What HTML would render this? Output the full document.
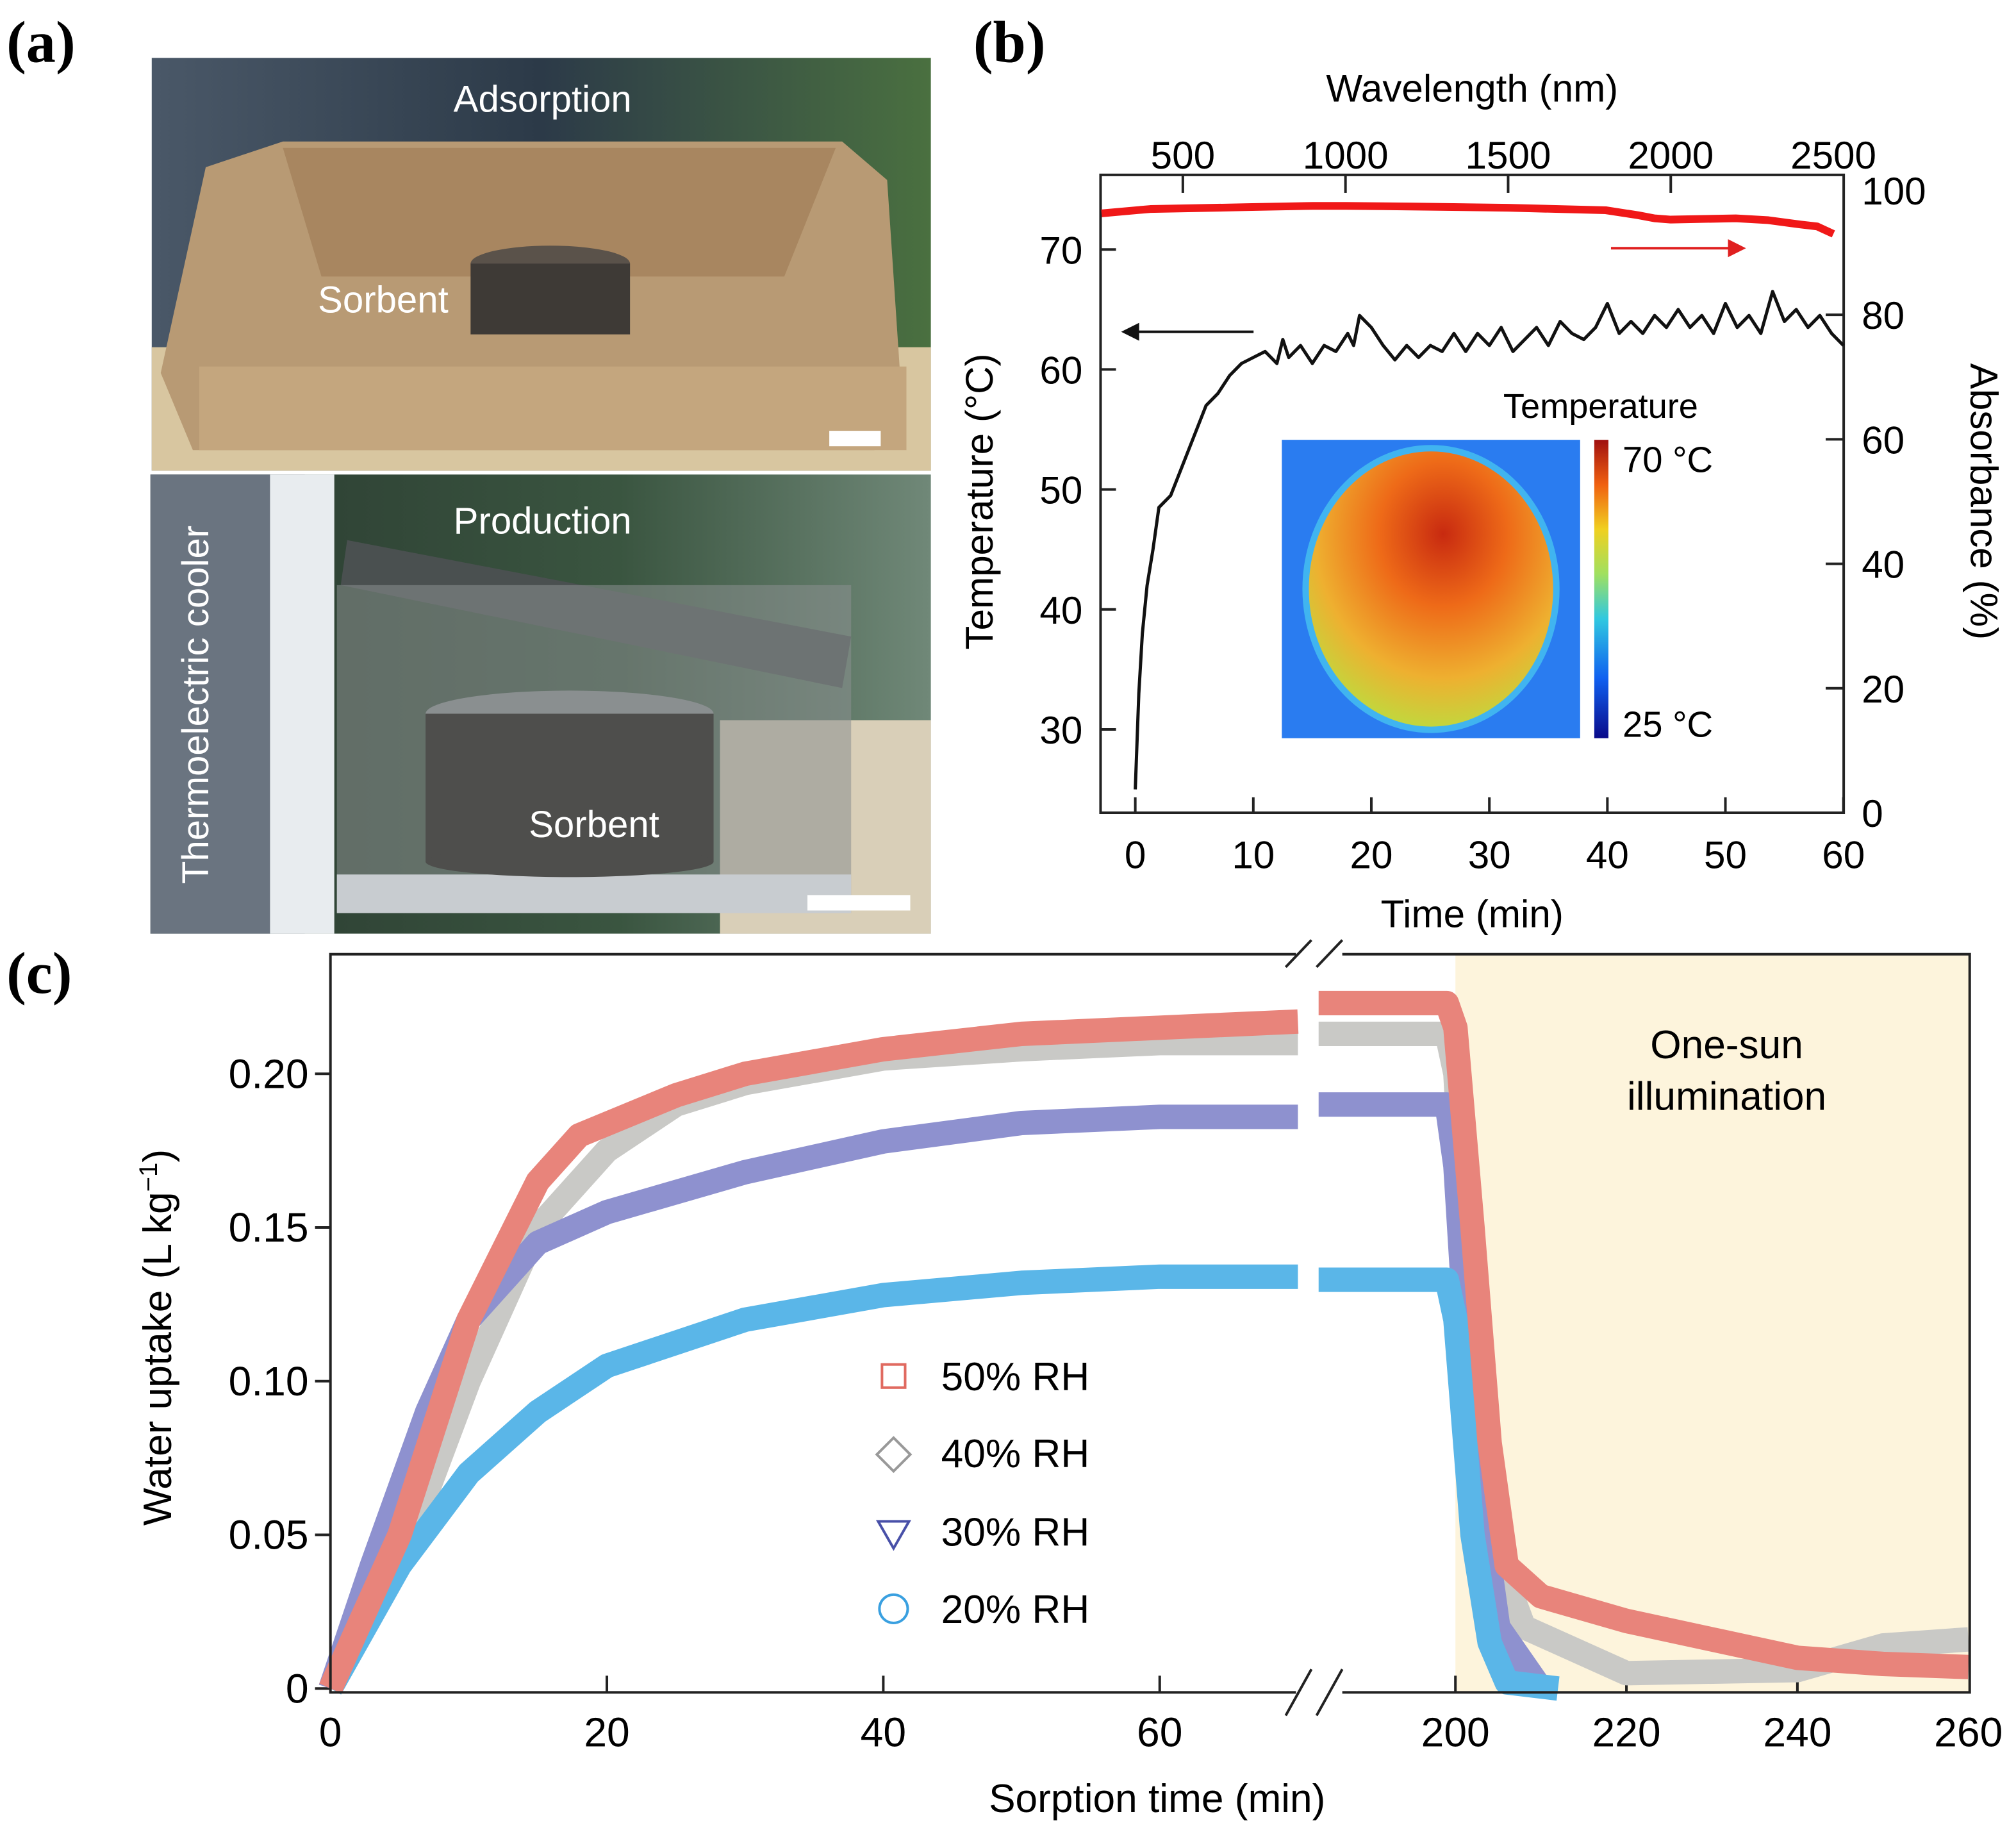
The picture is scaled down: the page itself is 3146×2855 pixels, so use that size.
<!DOCTYPE html>
<html><head><meta charset="utf-8"><style>
html,body{margin:0;padding:0;background:#fff}
svg{display:block}
</style></head><body>
<svg id="fig" xmlns="http://www.w3.org/2000/svg" width="3146" height="2855" viewBox="0 0 1568 1423" font-family="Liberation Sans, sans-serif">
<defs>
<linearGradient id="cbar" x1="0" y1="1" x2="0" y2="0">
<stop offset="0" stop-color="#0a0a8a"/><stop offset="0.2" stop-color="#1060f0"/><stop offset="0.4" stop-color="#30c8e0"/><stop offset="0.55" stop-color="#a0e060"/><stop offset="0.7" stop-color="#f0d020"/><stop offset="0.85" stop-color="#f06010"/><stop offset="1" stop-color="#a01010"/>
</linearGradient>
<radialGradient id="hot" cx="0.55" cy="0.3" r="0.75">
<stop offset="0" stop-color="#c82a10"/><stop offset="0.35" stop-color="#ee6a18"/><stop offset="0.7" stop-color="#eeb030"/><stop offset="1" stop-color="#b8e040"/>
</radialGradient>
<linearGradient id="sky1" x1="0" y1="0" x2="1" y2="0"><stop offset="0" stop-color="#4a5868"/><stop offset="0.5" stop-color="#2c3a48"/><stop offset="1" stop-color="#4a7040"/></linearGradient>
<linearGradient id="sky2" x1="0" y1="0" x2="1" y2="0"><stop offset="0" stop-color="#2a3a30"/><stop offset="0.6" stop-color="#3a5540"/><stop offset="1" stop-color="#708878"/></linearGradient>
</defs>

<text x="5" y="48" style="font-family:'Liberation Serif',serif;font-weight:bold" font-size="46">(a)</text>
<text x="757" y="48" style="font-family:'Liberation Serif',serif;font-weight:bold" font-size="46">(b)</text>
<text x="5" y="772" style="font-family:'Liberation Serif',serif;font-weight:bold" font-size="46">(c)</text>

<g>
<rect x="118" y="45" width="606" height="321" fill="url(#sky1)"/>
<rect x="118" y="270" width="606" height="96" fill="#d8c6a0"/>
<polygon points="160,130 220,110 655,110 690,140 700,290 680,350 150,350 125,290" fill="#b89a74"/>
<polygon points="220,115 650,115 610,215 250,215" fill="#a88660"/>
<rect x="155" y="285" width="550" height="65" fill="#c4a67e"/>
<ellipse cx="428" cy="205" rx="62" ry="14" fill="#5a524a"/>
<rect x="366" y="205" width="124" height="55" fill="#3e3a36"/>
<rect x="645" y="335" width="40" height="12" fill="#fff"/>
<text x="422" y="87" font-size="29" fill="#fff" text-anchor="middle">Adsorption</text>
<text x="298" y="243" font-size="29" fill="#fff" text-anchor="middle">Sorbent</text>
</g>
<g>
<rect x="117" y="369" width="607" height="357" fill="url(#sky2)"/>
<rect x="117" y="369" width="120" height="357" fill="#6a7480"/>
<rect x="210" y="369" width="50" height="357" fill="#e8ecef"/>
<rect x="560" y="560" width="164" height="166" fill="#d9cfb8"/>
<polygon points="270,420 662,495 655,535 265,455" fill="#4a5050"/>
<rect x="262" y="455" width="400" height="255" fill="#8a9090" opacity="0.55"/>
<rect x="262" y="680" width="400" height="30" fill="#c8ccd0"/>
<ellipse cx="443" cy="555" rx="112" ry="18" fill="#8a8f90"/>
<rect x="331" y="555" width="224" height="115" fill="#4e4e4c"/>
<ellipse cx="443" cy="670" rx="112" ry="12" fill="#4e4e4c"/>
<rect x="628" y="696" width="80" height="12" fill="#fff"/>
<text x="422" y="415" font-size="29" fill="#fff" text-anchor="middle">Production</text>
<text x="462" y="651" font-size="29" fill="#fff" text-anchor="middle">Sorbent</text>
<text transform="translate(162,548) rotate(-90)" font-size="29" fill="#fff" text-anchor="middle">Thermoelectric cooler</text>
</g>

<g id="pb">
<rect x="856" y="136" width="578" height="496" fill="none" stroke="#222" stroke-width="2"/>
<text x="1145" y="79" font-size="30" text-anchor="middle">Wavelength (nm)</text>
<text x="1145" y="721" font-size="30" text-anchor="middle">Time (min)</text>
<text transform="translate(772,390) rotate(-90)" font-size="30" text-anchor="middle">Temperature (°C)</text>
<text transform="translate(1533,390) rotate(90)" font-size="30" text-anchor="middle">Absorbance (%)</text>
<g>
<rect x="997" y="342" width="232" height="232" fill="#2a7cf0"/>
<ellipse cx="1113" cy="458" rx="100" ry="112" fill="#40b4f0"/>
<ellipse cx="1113" cy="458" rx="95" ry="107" fill="url(#hot)"/>
<rect x="1240" y="342" width="11" height="232" fill="url(#cbar)"/>
<text x="1245" y="325" font-size="27" text-anchor="middle">Temperature</text>
<text x="1262" y="367" font-size="28">70 °C</text>
<text x="1262" y="573" font-size="28">25 °C</text>
</g>
<line x1="975" y1="258" x2="880" y2="258" stroke="#111" stroke-width="2"/>
<polygon points="872,258 886,251 886,265" fill="#111"/>
<line x1="1253" y1="193" x2="1348" y2="193" stroke="#e02020" stroke-width="2"/>
<polygon points="1358,193 1344,186 1344,200" fill="#e02020"/>
</g>

<g id="pc">
<rect x="1132" y="742" width="400" height="574" fill="#fdf4dc"/>
</g>
<g id="pcover">
<rect x="257" y="742" width="1275" height="574" fill="none" stroke="#222" stroke-width="2"/>
<rect x="1008" y="735" width="36" height="14" fill="#fff"/>
<rect x="1008" y="1309" width="36" height="14" fill="#fff"/>
<g stroke="#222" stroke-width="2">
<line x1="1000" y1="752" x2="1020" y2="731"/><line x1="1024" y1="752" x2="1044" y2="731"/>
<line x1="1000" y1="1334" x2="1020" y2="1298"/><line x1="1024" y1="1334" x2="1044" y2="1298"/>
</g>
<text x="1343" y="823" font-size="31" text-anchor="middle">One-sun</text>
<text x="1343" y="863" font-size="31" text-anchor="middle">illumination</text>
<text transform="translate(133,1040) rotate(-90)" font-size="31" text-anchor="middle">Water uptake (L kg<tspan dy="-11" font-size="20">−1</tspan><tspan dy="11">)</tspan></text>
<text x="900" y="1409" font-size="31" text-anchor="middle">Sorption time (min)</text>
<g>
<g><rect x="686" y="1061" width="18" height="18" fill="none" stroke="#e06a60" stroke-width="2"/><text x="732" y="1081" font-size="31">50% RH</text></g>
<g><polygon points="695,1118 708,1131 695,1144 682,1131" fill="none" stroke="#999" stroke-width="2"/><text x="732" y="1141" font-size="31">40% RH</text></g>
<g><polygon points="683,1183 707,1183 695,1204" fill="none" stroke="#4850a8" stroke-width="2"/><text x="732" y="1202" font-size="31">30% RH</text></g>
<g><circle cx="695" cy="1251" r="11" fill="none" stroke="#3aa0e0" stroke-width="2"/><text x="732" y="1262" font-size="31">20% RH</text></g>
</g>
</g>
</svg>
<script>
const NS="http://www.w3.org/2000/svg";
const bTimeTicks=[0,10,20,30,40,50,60];
const bTempTicks=[30,40,50,60,70];
const bAbsTicks=[0,20,40,60,80,100];
const bWaveTicks=[500,1000,1500,2000,2500];
const tempTime=[0,0.3,0.6,1,1.5,2,3,4,5,6,7,8,9,10,11,12,12.5,13,14,15,16,17,18,18.5,19,20,21,22,23,24,25,26,27,28,29,30,31,32,33,34,35,36,37,38,39,40,41,42,43,44,45,46,47,48,49,50,51,52,53,54,55,56,57,58,59,60];
const tempVals=[25,33,38,42,45,48.5,49.5,52,54.5,57,58,59.5,60.5,61,61.5,60.5,62.5,61,62,60.5,62,61.5,63,62,64.5,63.5,62,60.8,62,61,62,61.5,63,61.5,63,62,63.5,61.5,62.5,63.5,62,64,63,62.5,63.5,65.5,63,64,63,64.5,63.5,65,63.5,64.5,63,65.5,63.5,64.5,63,66.5,64,65,63.5,64.5,63,62];
const absWave=[250,400,700,900,1000,1200,1500,1800,1900,1950,2000,2200,2300,2400,2450,2500];
const absVals=[96.3,97,97.3,97.5,97.5,97.4,97.2,96.8,96,95.5,95.3,95.5,95.2,94.5,94.2,93];
const cTickLabels=[0,20,40,60,200,220,240,260];
const cYTicks=[0,0.05,0.10,0.15,0.20];
const rh50T=[0,5,10,15,18,25,30,40,50,60,70,184,199,200,202,204,206,210,220,230,240,250,260];
const rh50V=[0,0.05,0.12,0.165,0.18,0.193,0.2,0.208,0.213,0.215,0.217,0.223,0.223,0.215,0.15,0.08,0.04,0.03,0.022,0.016,0.01,0.008,0.007];
const rh40T=[0,5,10,15,20,25,30,40,50,60,70,184,199,200,202,204,208,220,240,250,260];
const rh40V=[0,0.04,0.10,0.15,0.175,0.19,0.197,0.205,0.208,0.21,0.21,0.213,0.213,0.2,0.1,0.05,0.02,0.005,0.006,0.014,0.016];
const rh30T=[0,3,7,10,15,20,30,40,50,60,70,184,199,200,202,205,210];
const rh30V=[0,0.04,0.09,0.12,0.145,0.155,0.168,0.178,0.184,0.186,0.186,0.19,0.19,0.17,0.08,0.02,0];
const rh20T=[0,5,10,15,20,30,40,50,60,70,184,199,200,202,204,206,212];
const rh20V=[0,0.04,0.07,0.09,0.105,0.12,0.128,0.132,0.134,0.134,0.133,0.133,0.12,0.05,0.015,0.002,0];

function el(tag,attrs,parent){const e=document.createElementNS(NS,tag);for(const k in attrs)e.setAttribute(k,attrs[k]);parent.appendChild(e);return e;}
const pb=document.getElementById('pb');
const bx=t=>883+t*9.18;
const by=v=>194+(70-v)*9.33;
const ay=v=>632-v*4.84;
const wx=w=>920+(w-500)*0.253;
bTimeTicks.forEach(t=>{
 const l=el('line',{x1:bx(t),y1:632,x2:bx(t),y2:620,stroke:'#222','stroke-width':2},pb);
 
 
 const tx=el('text',{x:bx(t),y:675,'font-size':30,'text-anchor':'middle'},pb);tx.textContent=t;
 
 
});
bTempTicks.forEach(v=>{
 const l=el('line',{x1:856,y1:by(v),x2:868,y2:by(v),stroke:'#222','stroke-width':2},pb);
 
 
 const tx=el('text',{x:842,y:by(v)+11,'font-size':30,'text-anchor':'end'},pb);tx.textContent=v;
 
 
});
bAbsTicks.forEach(v=>{
 if(v>0&&v<100){const l=el('line',{x1:1434,y1:ay(v),x2:1420,y2:ay(v),stroke:'#222','stroke-width':2},pb);
 
 }
 const tx=el('text',{x:1448,y:ay(v)+11,'font-size':30},pb);tx.textContent=v;
 
 
});
bWaveTicks.forEach(w=>{
 if(w<2500){const l=el('line',{x1:wx(w),y1:136,x2:wx(w),y2:150,stroke:'#222','stroke-width':2},pb);
 
 }
 const tx=el('text',{x:wx(w),y:131,'font-size':30,'text-anchor':'middle'},pb);tx.textContent=w;
 
 
});
const absLine=el('polyline',{points:absWave.map((w,i)=>wx(w)+','+ay(absVals[i])).join(' '),fill:'none',stroke:'#f01818','stroke-width':6,'stroke-linejoin':'round'},pb);


const tLine=el('polyline',{points:tempTime.map((t,i)=>bx(t)+','+by(tempVals[i])).join(' '),fill:'none',stroke:'#111','stroke-width':2.5,'stroke-linejoin':'round'},pb);



const pc=document.getElementById('pc');
const cx=t=>t<=100?257+t*10.75:1132+(t-200)*6.65;
const cy=v=>1313-v*2390;
cYTicks.forEach(v=>{
 const l=el('line',{x1:257,y1:cy(v),x2:245,y2:cy(v),stroke:'#222','stroke-width':2},pc);
 
 
 const tx=el('text',{x:240,y:cy(v)+11,'font-size':32,'text-anchor':'end'},pc);tx.textContent=v===0?'0':v.toFixed(2);
 
 
});
cTickLabels.forEach(t=>{
 if(t>0&&t<260){const l=el('line',{x1:cx(t),y1:1316,x2:cx(t),y2:1303,stroke:'#222','stroke-width':2},pc);
 
 }
 const tx=el('text',{x:cx(t),y:1358,'font-size':32,'text-anchor':'middle'},pc);tx.textContent=t;
 
 
});
function band(T,V,color,w,name){
 const g=el('g',{},pc);
 
 
 const seg1=[],seg2=[];
 T.forEach((t,i)=>{(t<=100?seg1:seg2).push(cx(t)+','+cy(V[i]));});
 [seg1,seg2].forEach(s=>{if(s.length)el('polyline',{points:s.join(' '),fill:'none',stroke:color,'stroke-width':w,'stroke-linejoin':'round','stroke-linecap':'butt'},g);});
}
band(rh40T,rh40V,'#c9c9c6',19,'series-40rh');
band(rh30T,rh30V,'#8e91cf',19,'series-30rh');
band(rh20T,rh20V,'#5ab6e8',19,'series-20rh');
band(rh50T,rh50V,'#e8847b',19,'series-50rh');
document.getElementById('fig').appendChild(document.getElementById('pcover'));
</script>
</body></html>
